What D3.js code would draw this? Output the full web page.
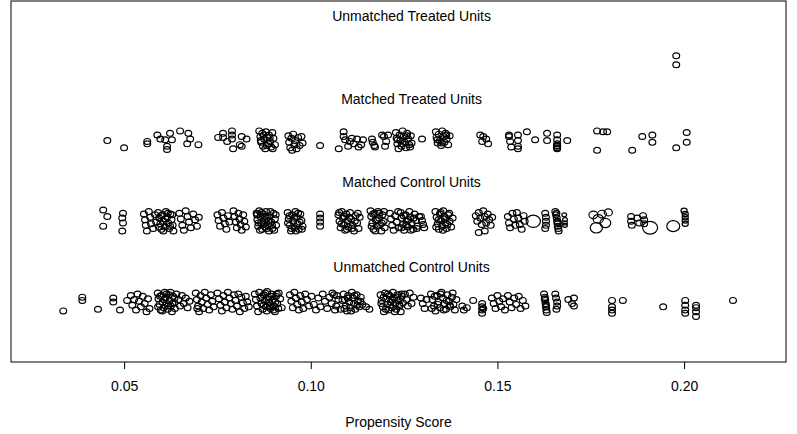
<!DOCTYPE html>
<html>
<head>
<meta charset="utf-8">
<script src="https://cdn.jsdelivr.net/npm/d3@7"></script>
<style>
  body { margin: 0; background: #fff; }
  text { font-family: "Liberation Sans", Arial, sans-serif; }
</style>
</head>
<body>
<div id="plot"></div>
<script>
// group labels, bottom to top, and where each label sits (row units)
var rowLabels = ["Unmatched Control Units", "Matched Control Units", "Matched Treated Units", "Unmatched Treated Units"];
var labelPos = [1.434, 2.487, 3.515, 4.544];
var labelX = 0.127;
var xTicks = [0.05, 0.10, 0.15, 0.20];

// [propensity score, vertical jitter]
var unmatchedTreated = [[0.1979, 0.05], [0.1979, -0.06]];

var matchedTreated = [
  [0.0455,0.00],[0.0500,-0.09],[0.0562,-0.01],[0.0562,-0.04],[0.0589,0.07],[0.0597,0.02],[0.0610,0.01],
  [0.0615,-0.07],[0.0615,-0.11],[0.0623,0.09],[0.0628,0.01],[0.0650,0.12],[0.0672,0.09],[0.0677,0.02],
  [0.0669,-0.04],[0.0699,-0.05],[0.0752,0.04],[0.0765,0.04],[0.0765,0.09],[0.0776,-0.01],[0.0789,0.12],
  [0.0789,0.07],[0.0789,0.02],[0.0792,-0.10],[0.0815,0.05],[0.0810,-0.05],[0.0828,0.02],[0.0815,-0.07],
  [0.0862,0.12],[0.0865,0.05],[0.0867,-0.02],[0.0870,0.09],[0.0872,-0.07],[0.0875,0.02],[0.0878,-0.10],
  [0.0880,0.11],[0.0883,0.04],[0.0886,-0.04],[0.0888,0.07],[0.0891,-0.01],[0.0894,-0.08],[0.0897,0.10],
  [0.0900,0.03],[0.0904,-0.05],
  [0.0866,0.00],[0.0874,0.07],[0.0882,-0.06],[0.0890,0.04],[0.0898,-0.10],
  [0.0940,0.06],[0.0942,-0.02],[0.0945,-0.09],[0.0948,0.03],[0.0950,-0.12],[0.0953,0.08],[0.0956,-0.05],
  [0.0958,0.00],[0.0962,-0.10],[0.0966,0.04],[0.0970,-0.06],[0.0975,0.05],[0.0978,-0.03],
  [0.1025,-0.06],
  [0.1088,0.11],[0.1088,0.05],[0.1092,0.01],[0.1075,-0.10],[0.1100,-0.07],[0.1105,-0.01],[0.1110,0.03],
  [0.1115,-0.04],[0.1124,0.02],[0.1128,-0.08],[0.1135,-0.05],[0.1140,0.01],
  [0.1164,0.02],[0.1166,-0.02],[0.1170,-0.06],[0.1172,-0.08],
  [0.1191,0.07],[0.1196,0.05],[0.1207,0.07],[0.1202,-0.01],[0.1199,-0.07],
  [0.1228,0.10],[0.1230,0.03],[0.1232,-0.04],[0.1235,-0.10],[0.1238,0.07],[0.1240,0.00],[0.1243,-0.07],
  [0.1246,0.12],[0.1249,0.05],[0.1252,-0.02],[0.1255,-0.09],[0.1258,0.09],[0.1261,0.02],[0.1264,-0.05],
  [0.1268,0.06],[0.1270,-0.03],
  [0.1233,0.01],[0.1245,-0.04],[0.1257,0.06],[0.1266,-0.08],
  [0.1298,0.02],
  [0.1335,0.11],[0.1337,0.04],[0.1340,-0.03],[0.1343,0.08],[0.1346,0.00],[0.1349,-0.06],[0.1352,0.12],
  [0.1355,0.05],[0.1358,-0.02],[0.1361,0.09],[0.1364,0.02],[0.1368,-0.05],[0.1372,0.06],
  [0.1339,0.01],[0.1351,-0.03],[0.1363,0.07],
  [0.1454,0.07],[0.1462,0.05],[0.1459,-0.01],[0.1475,-0.04],[0.1470,0.02],
  [0.1531,0.07],[0.1531,0.05],[0.1534,-0.01],[0.1537,-0.08],[0.1555,0.07],[0.1555,0.00],[0.1555,-0.07],
  [0.1555,-0.10],[0.1579,0.11],[0.1601,0.01],[0.1633,0.09],[0.1633,0.00],
  [0.1660,0.07],[0.1660,0.01],[0.1660,-0.04],[0.1660,-0.06],[0.1660,-0.07],[0.1660,-0.09],[0.1660,-0.10],
  [0.1687,0.00],
  [0.1767,0.12],[0.1783,0.11],[0.1794,0.11],[0.1767,-0.12],
  [0.1861,-0.12],[0.1888,0.05],[0.1915,0.07],[0.1915,-0.02],[0.1979,-0.09],[0.2007,0.10],[0.2007,-0.02]
];

// [propensity score, vertical jitter, weight]
var matchedControl = [
  [0.0444,0.14,1],[0.0455,0.06,1],[0.0444,-0.06,1],
  [0.0497,0.10,1],[0.0495,0.04,1],[0.0497,-0.02,1],[0.0495,-0.12,1],
  [0.0553,0.09,1],[0.0556,0.02,1],[0.0558,-0.05,1],[0.0561,-0.12,1],[0.0566,0.12,1],[0.0570,0.05,1],
  [0.0572,-0.03,1],[0.0578,-0.09,1],[0.0583,0.08,1],[0.0586,-0.01,1],
  [0.0591,0.11,1],[0.0594,0.04,1],[0.0597,-0.03,1],[0.0600,-0.10,1],[0.0603,0.08,1],[0.0606,0.00,1],
  [0.0609,-0.07,1],[0.0612,0.12,1],[0.0615,0.05,1],[0.0618,-0.02,1],[0.0621,-0.09,1],[0.0624,0.09,1],
  [0.0627,0.02,1],[0.0630,-0.05,1],[0.0632,-0.12,1],
  [0.0593,-0.07,1],[0.0599,0.07,1],[0.0605,-0.12,1],[0.0611,0.03,1],[0.0617,0.10,1],[0.0623,-0.06,1],
  [0.0629,0.08,1],
  [0.0648,0.10,1],[0.0652,0.03,1],[0.0656,-0.05,1],[0.0660,-0.11,1],[0.0665,0.13,1],[0.0670,0.06,1],
  [0.0674,-0.01,1],[0.0679,-0.08,1],[0.0685,0.09,1],[0.0690,0.02,1],[0.0695,-0.06,1],[0.0700,0.05,1],
  [0.0750,0.08,1],[0.0753,0.01,1],[0.0757,-0.06,1],[0.0762,0.11,1],[0.0766,0.04,1],[0.0770,-0.03,1],
  [0.0774,-0.10,1],[0.0778,0.07,1],[0.0782,-0.01,1],
  [0.0793,0.13,1],[0.0796,0.06,1],[0.0799,-0.01,1],[0.0802,-0.08,1],[0.0806,0.10,1],[0.0809,0.03,1],
  [0.0812,-0.04,1],[0.0815,-0.11,1],[0.0819,0.08,1],[0.0822,0.00,1],[0.0826,-0.07,1],
  [0.0855,0.10,1],[0.0857,0.02,1],[0.0859,-0.06,1],[0.0862,0.13,1],[0.0865,0.06,1],[0.0867,-0.02,1],
  [0.0870,-0.10,1],[0.0872,0.09,1],[0.0875,0.01,1],[0.0878,-0.07,1],[0.0880,0.12,1],[0.0883,0.04,1],
  [0.0886,-0.04,1],[0.0888,-0.12,1],[0.0891,0.07,1],[0.0894,-0.01,1],[0.0897,-0.09,1],[0.0900,0.10,1],
  [0.0904,0.03,1],[0.0907,-0.05,1],
  [0.0856,0.08,1],[0.0860,-0.02,1],[0.0864,-0.11,1],[0.0868,0.11,1],[0.0873,-0.04,1],[0.0877,0.06,1],
  [0.0882,-0.09,1],[0.0887,0.01,1],[0.0892,0.12,1],[0.0896,-0.05,1],[0.0902,-0.11,1],[0.0906,0.08,1],
  [0.0938,0.11,1],[0.0941,0.03,1],[0.0944,-0.05,1],[0.0947,-0.12,1],[0.0950,0.08,1],[0.0953,0.00,1],
  [0.0956,-0.08,1],[0.0959,0.12,1],[0.0962,0.05,1],[0.0965,-0.03,1],[0.0968,-0.10,1],[0.0972,0.09,1],
  [0.0975,0.01,1],[0.0978,-0.06,1],
  [0.0939,-0.02,1],[0.0943,0.07,1],[0.0949,-0.09,1],[0.0955,0.04,1],[0.0960,-0.12,1],[0.0966,0.10,1],
  [0.0970,-0.01,1],[0.0976,-0.10,1],
  [0.1025,0.09,1],[0.1025,0.04,1],[0.1025,-0.01,1],[0.1025,-0.06,1],
  [0.1074,0.08,1],[0.1077,0.00,1],[0.1080,-0.08,1],[0.1083,0.12,1],[0.1086,0.04,1],[0.1089,-0.04,1],
  [0.1092,-0.11,1],[0.1095,0.09,1],[0.1098,0.01,1],[0.1101,-0.07,1],[0.1105,0.11,1],[0.1108,0.03,1],
  [0.1112,-0.05,1],[0.1116,-0.12,1],[0.1120,0.07,1],[0.1124,-0.02,1],[0.1128,-0.09,1],[0.1131,0.05,1],
  [0.1076,0.11,1],[0.1082,-0.03,1],[0.1090,0.06,1],[0.1097,-0.10,1],[0.1103,0.05,1],[0.1110,-0.09,1],
  [0.1118,0.00,1],[0.1126,0.10,1],
  [0.1160,0.13,1],[0.1162,0.06,1],[0.1165,-0.02,1],[0.1168,-0.10,1],[0.1171,0.10,1],[0.1174,0.02,1],
  [0.1177,-0.06,1],[0.1180,0.12,1],[0.1183,0.04,1],[0.1186,-0.04,1],[0.1189,-0.12,1],[0.1192,0.08,1],
  [0.1195,0.00,1],[0.1198,-0.08,1],
  [0.1163,-0.06,1],[0.1167,0.09,1],[0.1173,-0.12,1],[0.1178,0.01,1],[0.1184,0.10,1],[0.1190,-0.02,1],
  [0.1196,0.12,1],
  [0.1212,0.10,1],[0.1215,0.03,1],[0.1218,-0.05,1],[0.1222,-0.11,1],[0.1226,0.07,1],[0.1230,-0.01,1],
  [0.1234,0.12,1],[0.1236,-0.08,1],
  [0.1241,0.11,1],[0.1244,0.04,1],[0.1247,-0.04,1],[0.1250,-0.11,1],[0.1254,0.08,1],[0.1257,0.00,1],
  [0.1260,-0.07,1],[0.1264,0.12,1],[0.1267,0.05,1],[0.1270,-0.02,1],[0.1274,-0.10,1],[0.1278,0.09,1],
  [0.1282,0.01,1],[0.1286,-0.06,1],[0.1290,0.06,1],
  [0.1243,-0.08,1],[0.1249,0.07,1],[0.1256,-0.04,1],[0.1262,0.02,1],[0.1268,-0.11,1],[0.1276,0.04,1],
  [0.1284,-0.09,1],
  [0.1295,0.06,1],[0.1298,0.01,1],[0.1301,-0.04,1],[0.1304,-0.08,1],
  [0.1334,0.12,1],[0.1337,0.05,1],[0.1340,-0.03,1],[0.1343,-0.10,1],[0.1346,0.09,1],[0.1349,0.01,1],
  [0.1352,-0.06,1],[0.1355,0.13,1],[0.1358,0.06,1],[0.1361,-0.02,1],[0.1364,-0.09,1],[0.1368,0.08,1],
  [0.1372,0.00,1],[0.1376,-0.07,1],[0.1380,0.04,1],
  [0.1336,-0.07,1],[0.1342,0.02,1],[0.1348,0.11,1],[0.1354,-0.11,1],[0.1360,0.03,1],[0.1366,-0.04,1],
  [0.1371,0.10,1],
  [0.1442,0.07,1],[0.1446,0.00,1],[0.1450,0.11,1],[0.1454,0.04,1],[0.1458,-0.04,1],[0.1462,0.13,1],
  [0.1466,0.06,1],[0.1470,-0.02,1],[0.1474,0.09,1],[0.1478,0.02,1],[0.1482,-0.05,1],[0.1486,0.05,1],
  [0.1450,-0.14,1],[0.1466,-0.12,1],
  [0.1528,0.06,1],[0.1531,-0.02,1],[0.1534,-0.08,1],[0.1540,0.10,1],[0.1544,0.03,1],[0.1548,-0.05,1],
  [0.1552,0.11,1],[0.1556,0.04,1],[0.1560,-0.04,1],[0.1565,-0.10,1],[0.1570,0.07,1],[0.1573,0.00,1],
  [0.1596,0.00,2.1],
  [0.1628,0.10,1],[0.1630,0.05,1],[0.1630,0.00,1],[0.1630,-0.05,1],[0.1628,-0.09,1],
  [0.1655,0.12,1],[0.1657,0.08,1],[0.1659,0.04,1],[0.1660,0.00,1],[0.1661,-0.03,1],[0.1662,-0.06,1],
  [0.1663,-0.09,1],[0.1664,-0.12,1],[0.1658,0.10,1],[0.1662,-0.01,1],
  [0.1679,0.08,0.7],[0.1681,0.02,0.7],[0.1681,-0.02,0.7],[0.1681,-0.05,0.7],
  [0.1757,0.08,1.3],[0.1770,0.03,1.5],[0.1780,0.09,1.3],[0.1789,-0.02,1.6],[0.1765,-0.08,1.8],[0.1797,0.11,1.2],
  [0.1858,0.06,1],[0.1858,0.00,1],[0.1860,-0.05,1],[0.1875,0.04,1],[0.1880,-0.02,1],[0.1890,0.07,1],
  [0.1893,0.02,1],[0.1893,-0.03,1],
  [0.1909,-0.08,2.2],[0.1971,-0.06,1.9],
  [0.2000,0.13,0.9],[0.2003,0.09,0.9],[0.2003,0.05,0.9],[0.2003,0.01,0.9],[0.2003,-0.03,0.9]
];

var unmatchedControl = [
  [0.0337,-0.11],[0.0388,0.06],[0.0388,0.02],[0.0430,-0.09],[0.0471,0.05],[0.0471,0.00],[0.0489,-0.10],
  [0.0508,0.02],
  [0.0518,0.08],[0.0522,-0.04],[0.0527,0.03],[0.0532,-0.10],[0.0536,0.10],[0.0540,0.01],[0.0545,-0.06],
  [0.0550,0.07],[0.0555,-0.02],[0.0560,-0.12],[0.0564,0.04],[0.0568,-0.08],
  [0.0590,0.11],[0.0592,0.04],[0.0595,-0.03],[0.0598,-0.10],[0.0600,0.08],[0.0603,0.00],[0.0606,-0.07],
  [0.0609,0.12],[0.0611,0.05],[0.0614,-0.02],[0.0617,-0.09],[0.0620,0.09],[0.0622,0.02],[0.0625,-0.05],
  [0.0628,-0.12],[0.0631,0.07],[0.0634,-0.01],[0.0636,-0.08],
  [0.0591,-0.06],[0.0596,0.07],[0.0602,-0.11],[0.0607,0.03],[0.0613,0.10],[0.0618,-0.05],[0.0624,0.12],
  [0.0629,-0.02],[0.0635,0.05],
  [0.0640,0.10],[0.0645,0.03],[0.0650,-0.05],[0.0655,0.08],[0.0660,-0.02],[0.0665,0.05],[0.0670,-0.07],
  [0.0675,0.01],[0.0696,-0.08],
  [0.0692,0.11],[0.0695,0.03],[0.0698,-0.05],[0.0701,-0.12],[0.0705,0.08],[0.0708,0.00],[0.0712,-0.08],
  [0.0716,0.12],[0.0720,0.05],[0.0724,-0.03],[0.0728,-0.10],[0.0732,0.09],[0.0736,0.01],[0.0740,-0.06],
  [0.0750,0.11],[0.0754,0.04],[0.0758,-0.04],[0.0762,-0.11],[0.0766,0.08],[0.0770,0.00],[0.0774,-0.07],
  [0.0778,0.12],[0.0782,0.05],[0.0786,-0.02],[0.0790,-0.09],[0.0794,0.09],[0.0798,0.02],[0.0802,-0.05],
  [0.0806,0.10],[0.0810,-0.12],[0.0814,0.06],[0.0818,-0.01],[0.0822,-0.08],[0.0826,0.07],[0.0830,0.00],
  [0.0834,-0.06],
  [0.0850,0.10],[0.0853,0.03],[0.0856,-0.05],[0.0859,-0.12],[0.0862,0.12],[0.0865,0.05],[0.0868,-0.02],
  [0.0871,-0.09],[0.0874,0.09],[0.0877,0.01],[0.0880,-0.06],[0.0883,0.13],[0.0886,0.06],[0.0889,-0.01],
  [0.0892,-0.08],[0.0895,0.10],[0.0898,0.02],[0.0901,-0.05],[0.0904,-0.12],[0.0907,0.07],[0.0910,-0.02],
  [0.0914,0.11],[0.0918,0.04],[0.0922,-0.07],
  [0.0869,0.07],[0.0873,-0.04],[0.0878,0.11],[0.0882,-0.11],[0.0887,0.03],[0.0891,-0.06],[0.0896,0.07],
  [0.0900,-0.10],[0.0905,0.00],[0.0909,0.10],[0.0913,-0.08],
  [0.0944,0.09],[0.0948,0.01],[0.0952,-0.07],[0.0956,0.12],[0.0960,0.05],[0.0964,-0.03],[0.0968,-0.10],
  [0.0972,0.08],[0.0976,0.00],[0.0980,-0.08],[0.0985,0.10],[0.0990,0.03],[0.0995,-0.05],
  [0.1002,0.07],[0.1008,-0.03],[0.1014,-0.10],[0.1020,0.05],[0.1026,-0.06],[0.1032,0.10],[0.1038,0.01],
  [0.1044,-0.08],[0.1050,0.06],[0.1056,-0.02],[0.1062,0.09],[0.1068,-0.05],[0.1074,0.03],
  [0.1058,0.11],[0.1065,-0.10],[0.1070,0.08],[0.1080,-0.09],[0.1085,0.02],
  [0.1088,0.10],[0.1091,0.03],[0.1094,-0.05],[0.1097,-0.11],[0.1100,0.08],[0.1103,0.00],[0.1106,-0.07],
  [0.1110,0.12],[0.1113,0.05],[0.1116,-0.02],[0.1119,-0.09],[0.1123,0.09],[0.1126,0.01],[0.1130,-0.06],
  [0.1134,0.06],[0.1138,-0.03],
  [0.1090,-0.08],[0.1099,0.05],[0.1108,-0.11],[0.1117,0.08],[0.1125,-0.04],[0.1133,0.01],
  [0.1148,-0.06],[0.1157,-0.09],
  [0.1187,0.09],[0.1190,0.02],[0.1193,-0.06],[0.1196,-0.12],[0.1199,0.11],[0.1202,0.04],[0.1205,-0.03],
  [0.1208,-0.10],[0.1211,0.08],[0.1214,0.00],[0.1217,-0.07],[0.1220,0.12],[0.1223,0.05],[0.1226,-0.02],
  [0.1229,-0.09],[0.1232,0.09],[0.1235,0.02],[0.1238,-0.05],[0.1241,-0.12],[0.1244,0.07],[0.1247,-0.01],
  [0.1189,-0.02],[0.1195,0.06],[0.1201,-0.09],[0.1207,0.10],[0.1213,-0.04],[0.1219,0.03],[0.1225,-0.12],
  [0.1231,0.06],[0.1237,-0.03],[0.1243,0.10],
  [0.1252,0.10],[0.1256,0.03],[0.1260,-0.05],[0.1265,0.11],[0.1270,-0.02],[0.1275,0.06],
  [0.1295,0.05],[0.1300,-0.02],[0.1305,-0.08],[0.1310,0.03],
  [0.1322,0.10],[0.1326,0.03],[0.1330,-0.05],[0.1334,-0.11],[0.1338,0.08],[0.1342,0.00],[0.1346,-0.07],
  [0.1350,0.12],[0.1354,0.05],[0.1358,-0.02],[0.1362,-0.09],[0.1366,0.09],[0.1370,0.01],[0.1374,-0.06],
  [0.1378,0.06],[0.1382,-0.03],[0.1386,-0.10],[0.1390,0.03],
  [0.1324,-0.08],[0.1332,0.07],[0.1340,-0.03],[0.1348,0.10],[0.1356,-0.10],[0.1364,0.02],[0.1372,-0.04],
  [0.1380,0.11],
  [0.1406,-0.05],[0.1410,-0.10],[0.1418,-0.07],
  [0.1435,0.02],
  [0.1459,-0.02],[0.1459,-0.06],[0.1459,-0.10],[0.1459,-0.14],[0.1462,-0.08],
  [0.1485,0.05],[0.1490,-0.02],[0.1495,-0.08],[0.1500,0.08],[0.1505,0.01],[0.1510,-0.06],[0.1515,0.04],
  [0.1520,-0.10],
  [0.1528,0.08],[0.1533,0.00],[0.1538,-0.07],[0.1545,0.05],[0.1550,-0.03],[0.1557,0.07],[0.1562,-0.08],
  [0.1568,0.02],[0.1575,-0.05],
  [0.1625,0.10],[0.1627,0.06],[0.1628,0.02],[0.1629,-0.02],[0.1630,-0.06],[0.1631,-0.10],[0.1632,-0.13],
  [0.1627,0.04],[0.1630,-0.04],
  [0.1655,0.10],[0.1657,0.05],[0.1660,0.00],[0.1660,-0.05],[0.1658,-0.09],
  [0.1690,0.03],[0.1700,-0.02],[0.1705,0.05],[0.1705,-0.05],
  [0.1807,0.02],[0.1836,0.02],[0.1807,-0.06],[0.1807,-0.10],[0.1807,-0.14],
  [0.1944,-0.06],
  [0.2003,0.02],[0.2003,-0.04],[0.2003,-0.10],[0.2003,-0.14],
  [0.2032,-0.04],[0.2032,-0.07],[0.2032,-0.12],[0.2032,-0.18],
  [0.2131,0.02]
];

var svgWidth = 797;
var svgHeight = 434;
var margin = { top: 1, right: 11, bottom: 72, left: 11 };
var chartWidth = svgWidth - margin.left - margin.right;
var chartHeight = svgHeight - margin.top - margin.bottom;

var svg = d3.select("#plot").append("svg")
  .attr("width", svgWidth)
  .attr("height", svgHeight);

var chartGroup = svg.append("g")
  .attr("transform", `translate(${margin.left}, ${margin.top})`);

var xScale = d3.scaleLinear().domain([0.0197, 0.2273]).range([0, chartWidth]);
var yScale = d3.scaleLinear().domain([0.2565, 4.730]).range([chartHeight, 0]);
var baseRx = 3.4;
var baseRy = 2.9;

// each group sits on its own row
function drawRow(data, row, sizeOf) {
  chartGroup.append("g").selectAll("ellipse")
    .data(data)
    .enter()
    .append("ellipse")
    .attr("cx", d => xScale(d[0]))
    .attr("cy", d => yScale(row + d[1]))
    .attr("rx", d => baseRx * sizeOf(d))
    .attr("ry", d => baseRy * sizeOf(d))
    .attr("fill", "none")
    .attr("stroke", "#000")
    .attr("stroke-width", 1.2);
}

drawRow(unmatchedControl, 1, d => 1);
drawRow(matchedControl, 2, d => d[2]);
drawRow(matchedTreated, 3, d => 1);
drawRow(unmatchedTreated, 4, d => 1);

chartGroup.append("g").selectAll("text")
  .data(rowLabels)
  .enter()
  .append("text")
  .attr("x", xScale(labelX))
  .attr("y", (d, i) => yScale(labelPos[i]))
  .attr("dy", "0.35em")
  .attr("text-anchor", "middle")
  .attr("font-size", 14)
  .text(d => d);

// box
chartGroup.append("rect")
  .attr("width", chartWidth)
  .attr("height", chartHeight)
  .attr("fill", "none")
  .attr("stroke", "#000")
  .attr("stroke-width", 1);

var bottomAxis = d3.axisBottom(xScale)
  .tickValues(xTicks)
  .tickFormat(d3.format(".2f"))
  .tickSize(7)
  .tickPadding(12);

var xAxis = chartGroup.append("g")
  .attr("transform", `translate(0, ${chartHeight})`)
  .call(bottomAxis);
xAxis.select(".domain").remove();
xAxis.selectAll("text").attr("font-size", 14).attr("fill", "#000")
  .style("font-family", "'Liberation Sans', Arial, sans-serif");

chartGroup.append("text")
  .attr("x", chartWidth / 2)
  .attr("y", chartHeight + 60)
  .attr("dy", "0.35em")
  .attr("text-anchor", "middle")
  .attr("font-size", 14)
  .text("Propensity Score");
</script>
</body>
</html>
